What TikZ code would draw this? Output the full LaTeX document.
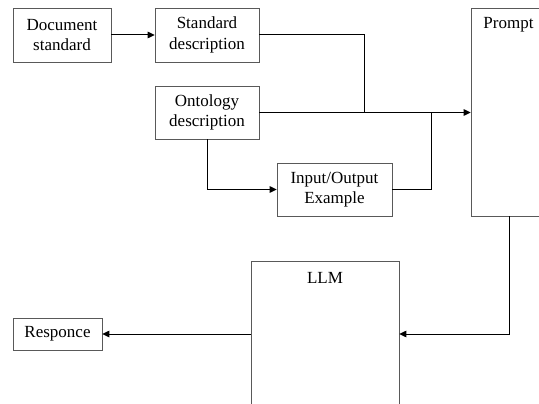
\documentclass[tikz,border=0pt]{standalone}
\usepackage{fontspec}
\setmainfont{Liberation Serif}
\usetikzlibrary{arrows.meta}
\begin{document}
\begin{tikzpicture}[x=1pt,y=-1pt,
  box/.style={draw=black!65, line width=0.6pt, fill=white, inner sep=0pt, align=center,
    font=\fontsize{17}{20.5}\selectfont},
  conn/.style={draw=black, line width=1pt},
  arr/.style={conn, -{Triangle[length=7pt,width=6.5pt]}},
  lbl/.style={inner sep=0pt, font=\fontsize{17}{20.5}\selectfont}]
\clip (0,0) rectangle (539,404);
\useasboundingbox (0,0) rectangle (539,404);
\fill[white] (0,0) rectangle (539,404);
\node[box, minimum width=98pt, minimum height=54pt] (doc) at (62,35) {Document\\standard};
\node[box, minimum width=104pt, minimum height=54pt] (std) at (207,35) {Standard\\description};
\node[box, minimum width=104pt, minimum height=53pt] (ont) at (207,112.5) {Ontology\\description};
\node[box, minimum width=115pt, minimum height=53pt] (io) at (334.5,189.5) {Input/Output\\Example};
\node[box, minimum width=75pt, minimum height=208pt] (prompt) at (508.5,112) {};
\node[lbl] (ptext) at (508.5,25) {Prompt};
\node[box, minimum width=148pt, minimum height=146pt] (llm) at (325,334) {};
\node[lbl] (ltext) at (325,278) {LLM};
\node[box, minimum width=89pt, minimum height=32pt] (resp) at (57.5,334) {Responce};
\coordinate (j1) at (364,112);
\coordinate (j2) at (431,112);
\coordinate (p1) at (509,216);
\draw[arr] (doc.east) -- (std.west);
\draw[conn] (std.east) -| (j1);
\draw[arr] (ont.east) -- (prompt.west |- ont.east);
\draw[arr] (ont.south) |- (io.west);
\draw[conn] (io.east) -| (j2);
\draw[arr] (p1) |- (llm.east);
\draw[arr] (llm.west) -- (resp.east);
\end{tikzpicture}
\end{document}
